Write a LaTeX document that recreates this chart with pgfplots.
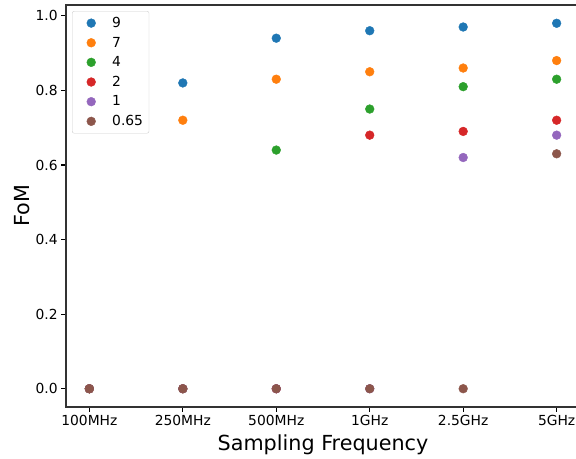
\documentclass[border=0pt]{standalone}
\usepackage{fontspec}
\setmainfont{DejaVu Sans}
\usepackage{pgfplots}
\pgfplotsset{compat=1.18}
\definecolor{c0}{HTML}{1F77B4}
\definecolor{c1}{HTML}{FF7F0E}
\definecolor{c2}{HTML}{2CA02C}
\definecolor{c3}{HTML}{D62728}
\definecolor{c4}{HTML}{9467BD}
\definecolor{c5}{HTML}{8C564B}
\begin{document}
\begin{tikzpicture}[x=1bp,y=1bp]
\begin{axis}[
  at={(0,0)}, anchor=south west,
  scale only axis, width=514bp, height=402bp,
  xmin=-0.25, xmax=5.25, ymin=-0.049, ymax=1.029,
  xtick={0,1,2,3,4,5},
  xticklabels={100MHz,250MHz,500MHz,1GHz,2.5GHz,5GHz},
  ytick={0,0.2,0.4,0.6,0.8,1.0},
  yticklabel style={/pgf/number format/.cd, fixed, fixed zerofill, precision=1},
  /pgf/number format/assume math mode=true,
  tick align=outside, major tick length=4.9bp, tick pos=left,
  tick style={line width=1.1bp, black},
  ticklabel style={font=\fontsize{13.9}{16}\selectfont},
  xlabel={Sampling Frequency}, ylabel={FoM},
  label style={font=\fontsize{20.8}{24}\selectfont},
  xlabel style={yshift=-2bp},
  ylabel style={yshift=-1bp},
  axis line style={line width=1.1bp, black!80},
  legend cell align=left,
  legend image code/.code={
    \path[draw=none, fill=none] (0bp,-4bp) rectangle (34bp,4bp);
    \draw[#1, mark=*, mark size=4.4bp, only marks] plot coordinates {(15bp,0bp)};
  },
  legend style={at={(axis description cs:0.0117,0.985)}, anchor=north west,
    font=\fontsize{13.9}{16}\selectfont, draw=black!20, rounded corners=2bp,
    row sep=4bp, inner xsep=4bp, inner ysep=4bp},
]
\addplot[only marks, mark=*, mark size=4.4bp, c0, mark options={fill=c0, draw=c0}] coordinates {(0,0) (1,0.82) (2,0.94) (3,0.96) (4,0.97) (5,0.98)};
\addlegendentry{9}
\addplot[only marks, mark=*, mark size=4.4bp, c1, mark options={fill=c1, draw=c1}] coordinates {(0,0) (1,0.72) (2,0.83) (3,0.85) (4,0.86) (5,0.88)};
\addlegendentry{7}
\addplot[only marks, mark=*, mark size=4.4bp, c2, mark options={fill=c2, draw=c2}] coordinates {(0,0) (1,0) (2,0.64) (3,0.75) (4,0.81) (5,0.83)};
\addlegendentry{4}
\addplot[only marks, mark=*, mark size=4.4bp, c3, mark options={fill=c3, draw=c3}] coordinates {(0,0) (1,0) (2,0) (3,0.68) (4,0.69) (5,0.72)};
\addlegendentry{2}
\addplot[only marks, mark=*, mark size=4.4bp, c4, mark options={fill=c4, draw=c4}] coordinates {(0,0) (1,0) (2,0) (3,0) (4,0.62) (5,0.68)};
\addlegendentry{1}
\addplot[only marks, mark=*, mark size=4.4bp, c5, mark options={fill=c5, draw=c5}] coordinates {(0,0) (1,0) (2,0) (3,0) (4,0) (5,0.63)};
\addlegendentry{0.65}
\end{axis}
\pgfresetboundingbox
\path[use as bounding box] (-66bp,-52bp) rectangle (510bp,407bp);
\end{tikzpicture}
\end{document}
